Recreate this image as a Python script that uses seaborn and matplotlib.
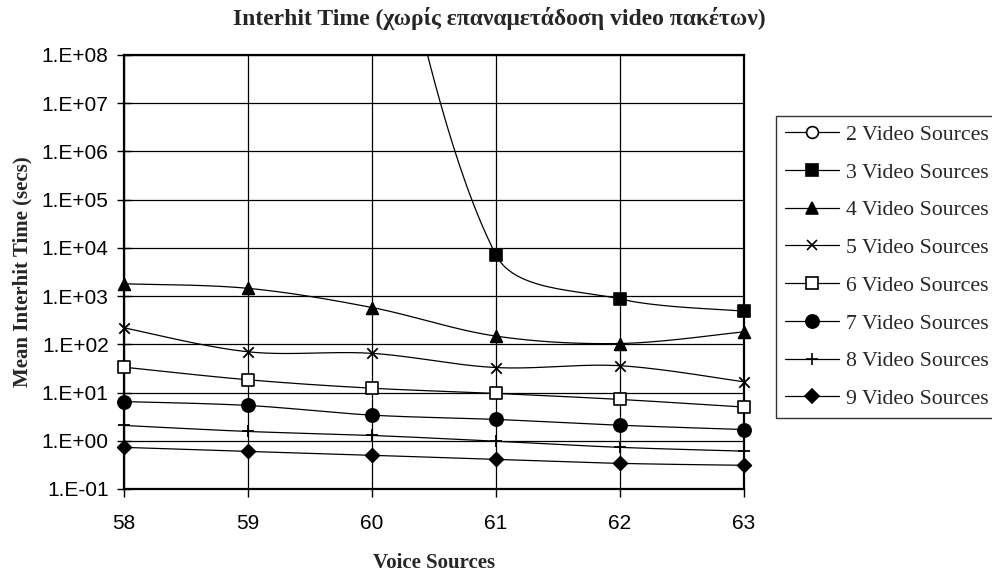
import numpy as np
import pandas as pd
import matplotlib
matplotlib.use("Agg")
import matplotlib.pyplot as plt
from matplotlib.lines import Line2D
from matplotlib.ticker import FixedLocator, FuncFormatter, NullLocator
import seaborn as sns

# ---- data ----
voice_sources = [58, 59, 60, 61, 62, 63]
vs2 = [np.nan, np.nan, np.nan, np.nan, np.nan, np.nan]
vs3 = [np.nan, np.nan, 1e13, 7.1e3, 870, 490]
vs4 = [1.8e3, 1.45e3, 580, 148, 104, 182]
vs5 = [220, 70, 65, 33, 36, 16.7]
vs6 = [33.6, 18.4, 12.3, 9.6, 7.2, 5.0]
vs7 = [6.5, 5.4, 3.4, 2.77, 2.1, 1.71]
vs8 = [2.08, 1.56, 1.29, 0.98, 0.73, 0.61]
vs9 = [0.73, 0.60, 0.50, 0.41, 0.34, 0.31]
series_labels = ["2 Video Sources", "3 Video Sources", "4 Video Sources",
                 "5 Video Sources", "6 Video Sources", "7 Video Sources",
                 "8 Video Sources", "9 Video Sources"]
series_values = [vs2, vs3, vs4, vs5, vs6, vs7, vs8, vs9]

# marker styles: (marker, size_pt, filled)
styles = [("o", 8.5, False), ("s", 9, True), ("^", 8.5, True), ("x", 7.5, False),
          ("s", 8, False), ("o", 9.5, True), ("+", 8, False), ("D", 7, True)]

YMIN, YMAX = 1e-1, 1e8
XPX, YPX = 124.0, 48.2  # pixel scale per x unit / per decade (for smoothing shape)

sns.set_theme(style="white")
plt.rcParams["font.family"] = ["Liberation Sans", "DejaVu Sans"]

fig = plt.figure(figsize=(9.92, 5.76), dpi=100)
ax = fig.add_axes([124 / 992, 1 - 489 / 576, (744 - 124) / 992, (489 - 55) / 576])


def smooth(xs, ys):
    """Excel-like smoothed line (chord-scaled Catmull-Rom Bezier) in screen-like space."""
    x = np.asarray(xs, float)
    y = np.asarray(ys, float)
    ok = ~np.isnan(y)
    x, ly = x[ok], np.log10(y[ok])
    n = len(x)
    if n < 2:
        return np.array([]), np.array([])
    P = np.column_stack([x * XPX, ly * YPX])
    fwd, bwd = [None] * n, [None] * n
    for i in range(n):
        if i == 0:
            fwd[i] = P[0] + (P[1] - P[0]) / 6
            continue
        if i == n - 1:
            bwd[i] = P[i] - (P[i] - P[i - 1]) / 6
            continue
        T = P[i + 1] - P[i - 1]
        dp = np.hypot(*(P[i] - P[i - 1]))
        dn = np.hypot(*(P[i + 1] - P[i]))
        fwd[i] = P[i] + T * (1 / 3) * dn / (dp + dn)
        bwd[i] = P[i] - T * (1 / 3) * dp / (dp + dn)
    t = np.linspace(0, 1, 50)[:, None]
    out = []
    for i in range(n - 1):
        p1, c1, c2, p2 = P[i], fwd[i], bwd[i + 1], P[i + 1]
        seg = ((1 - t) ** 3) * p1 + 3 * ((1 - t) ** 2) * t * c1 + 3 * (1 - t) * t ** 2 * c2 + t ** 3 * p2
        out.append(seg if i == 0 else seg[1:])
    pts = np.vstack(out)
    return pts[:, 0] / XPX, 10 ** (pts[:, 1] / YPX)


handles = []
for label, vals, (mk, ms, filled) in zip(series_labels, series_values, styles):
    sx, sy = smooth(voice_sources, vals)
    if len(sx):
        df_line = pd.DataFrame({"x": sx, "y": sy})
        sns.lineplot(data=df_line, x="x", y="y", ax=ax, color="black", lw=0.9,
                     sort=False, estimator=None, zorder=3)
    df_pts = pd.DataFrame({"x": voice_sources, "y": vals}).dropna()
    df_pts = df_pts[(df_pts["y"] >= YMIN) & (df_pts["y"] <= YMAX)]
    if len(df_pts):
        if mk in ("x", "+"):
            sc = sns.scatterplot(data=df_pts, x="x", y="y", ax=ax, marker=mk, s=ms ** 2,
                                 color="black", linewidth=1.3, zorder=4)
        else:
            sc = sns.scatterplot(data=df_pts, x="x", y="y", ax=ax, marker=mk, s=ms ** 2,
                                 facecolor="black" if filled else "white",
                                 edgecolor="black", linewidth=1.2, zorder=4)
        ax.collections[-1].set_clip_on(False)
    handles.append(Line2D([], [], color="black", lw=0.9, marker=mk, markersize=ms,
                          markerfacecolor="black" if filled else "white",
                          markeredgecolor="black", markeredgewidth=1.2))

ax.set_yscale("log")
ax.set_ylim(YMIN, YMAX)
ax.set_xlim(58, 63)
ax.xaxis.set_major_locator(FixedLocator(voice_sources))
ax.yaxis.set_major_locator(FixedLocator([10.0 ** e for e in range(-1, 9)]))
ax.yaxis.set_minor_locator(NullLocator())
ax.yaxis.set_major_formatter(FuncFormatter(lambda v, p: "1.E%+03d" % int(round(np.log10(v)))))
ax.grid(True, which="major", color="black", lw=0.9)
ax.set_axisbelow(True)
for sp in ax.spines.values():
    sp.set_color("black")
    sp.set_linewidth(1.6)
ax.tick_params(axis="y", which="major", direction="inout", length=10, width=1,
               color="black", labelsize=15, pad=6, left=True)
ax.tick_params(axis="x", which="major", direction="out", length=6, width=1,
               color="black", labelsize=15, pad=12, bottom=True)
for lab in ax.get_xticklabels() + ax.get_yticklabels():
    lab.set_color("black")
ax.set_xlabel("")
ax.set_ylabel("")

serif = ["Liberation Serif", "DejaVu Serif"]
fig.text(0.503, 1 - 18 / 576, "Interhit Time (χωρίς επαναμετάδοση video πακέτων)",
         ha="center", va="center", fontsize=17, fontweight="bold", family=serif)
fig.text(434 / 992, 1 - 563 / 576, "Voice Sources", ha="center", va="center",
         fontsize=15, fontweight="bold", family=serif)
fig.text(22 / 992, 1 - 272 / 576, "Mean Interhit Time (secs)", ha="center", va="center",
         rotation=90, fontsize=15, fontweight="bold", family=serif)

leg = fig.legend(handles, series_labels, loc="upper left",
                 bbox_to_anchor=(776 / 992, 1 - 116 / 576),
                 prop={"family": serif, "size": 15.7}, frameon=True, fancybox=False,
                 edgecolor="black", handlelength=2.48, handletextpad=0.32,
                 labelspacing=0.8, borderpad=0.4, borderaxespad=0)
leg.get_frame().set_linewidth(1.0)

fig.savefig("out.png", dpi=100, facecolor="white")
